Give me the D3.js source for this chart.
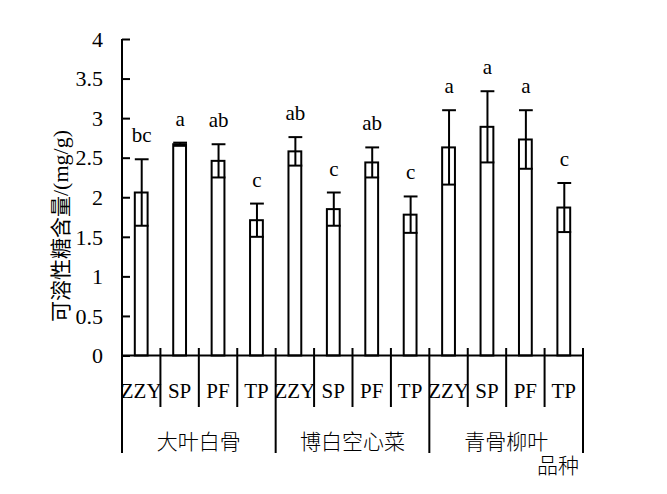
<!DOCTYPE html>
<html><head><meta charset="utf-8">
<script src="https://cdn.jsdelivr.net/npm/d3@7/dist/d3.min.js"></script>
<style>body{margin:0;background:#fff}svg{display:block}</style>
</head><body>
<svg id="c" width="667" height="494"></svg>
<script>
const groups = ["大叶白骨", "博白空心菜", "青骨柳叶"];
const treatments = ["ZZY", "SP", "PF", "TP"];
const means = [2.06, 2.67, 2.46, 1.71, 2.58, 1.85, 2.44, 1.78, 2.63, 2.89, 2.73, 1.87];
const errors = [0.42, 0.02, 0.21, 0.21, 0.18, 0.21, 0.19, 0.23, 0.47, 0.45, 0.37, 0.31];
const letters = ["bc", "a", "ab", "c", "ab", "c", "ab", "c", "a", "a", "a", "c"];
const yTicks = [0, 0.5, 1, 1.5, 2, 2.5, 3, 3.5, 4];
const yLabelCJK = "可溶性糖含量";
const yLabelUnit = "/(mg/g)";
const xTitle = "品种";

(function () {
const data = [];
groups.forEach((g, gi) => treatments.forEach((t, ti) => {
  const i = gi * treatments.length + ti;
  data.push({key: g + "|" + t, g, t, m: means[i], e: errors[i], l: letters[i]});
}));

const svg = d3.select("#c");
const pL = 122, pR = 583, pT = 39, pB = 355.5;
const serif = "'Liberation Serif', 'Times New Roman', serif";
const cjk = "'Noto Sans CJK SC', 'Noto Sans CJK JP', sans-serif";

const x = d3.scaleBand().domain(data.map(d => d.key)).range([pL, pR]).padding(0);
const y = d3.scaleLinear().domain([0, 4]).range([pB, pT]);
const bw = x.bandwidth() / 3;

// bars
svg.append("g").selectAll("rect").data(data).join("rect")
  .attr("x", d => x(d.key) + x.bandwidth() / 2 - bw / 2)
  .attr("y", d => y(d.m))
  .attr("width", bw)
  .attr("height", d => y(0) - y(d.m))
  .attr("fill", "#fff").attr("stroke", "#000").attr("stroke-width", 2);

// error bars
const eg = svg.append("g").attr("stroke", "#000").attr("stroke-width", 2);
data.forEach(d => {
  const cx = x(d.key) + x.bandwidth() / 2 + 0.5;
  const cw = bw / 2 + 0.5;
  eg.append("line").attr("x1", cx).attr("x2", cx).attr("y1", y(d.m - d.e)).attr("y2", y(d.m + d.e));
  eg.append("line").attr("x1", cx - cw).attr("x2", cx + cw).attr("y1", y(d.m + d.e)).attr("y2", y(d.m + d.e));
  eg.append("line").attr("x1", cx - cw).attr("x2", cx + cw).attr("y1", y(d.m - d.e)).attr("y2", y(d.m - d.e));
});

// significance letters
svg.append("g").selectAll("text").data(data).join("text")
  .attr("x", d => x(d.key) + x.bandwidth() / 2 + 0.5)
  .attr("y", d => y(d.m + d.e) - 17)
  .attr("text-anchor", "middle").attr("fill", "#000")
  .style("font-family", serif).style("font-size", "21px")
  .text(d => d.l);

// y axis
const yAxis = d3.axisRight(y).tickValues(yTicks).tickSize(8).tickFormat(d3.format("~g"));
const ya = svg.append("g").attr("transform", `translate(${pL},0)`).call(yAxis);
ya.attr("font-family", null).attr("font-size", null);
ya.select(".domain").attr("stroke-width", 2).attr("d", `M0,${pT}V${pB}`);
ya.selectAll(".tick line").attr("stroke-width", 2);
ya.selectAll(".tick text").attr("x", -19).attr("text-anchor", "end").attr("dy", "0.33em")
  .style("font-family", serif).style("font-size", "22px").attr("fill", "#000");

// x axis line
svg.append("line").attr("x1", pL).attr("x2", pR).attr("y1", pB).attr("y2", pB)
  .attr("stroke", "#000").attr("stroke-width", 2);

// category boundaries
const n = data.length;
const bounds = d3.range(n + 1).map(i => i < n ? x(data[i].key) : pR);
svg.append("g").selectAll("line").data(bounds).join("line")
  .attr("x1", d => d).attr("x2", d => d)
  .attr("y1", 348)
  .attr("y2", (d, i) => i % treatments.length === 0 ? 453 : 407)
  .attr("stroke", "#000").attr("stroke-width", 2);

// category labels
svg.append("g").selectAll("text").data(data).join("text")
  .attr("x", d => x(d.key) + x.bandwidth() / 2)
  .attr("y", 398)
  .attr("text-anchor", "middle").attr("fill", "#000")
  .style("font-family", serif).style("font-size", "21px")
  .text(d => d.t);

// group labels
const gw = x.bandwidth() * treatments.length;
svg.append("g").selectAll("text").data(groups).join("text")
  .attr("x", (g, i) => pL + gw * i + gw / 2)
  .attr("y", 449)
  .attr("text-anchor", "middle").attr("fill", "#000")
  .style("font-family", cjk).style("font-weight", 300).style("font-size", "21px")
  .text(g => g);

svg.append("text").attr("x", 579).attr("y", 473).attr("text-anchor", "end").attr("fill", "#000")
  .style("font-family", cjk).style("font-weight", 300).style("font-size", "21px").text(xTitle);

// y label
const yl = svg.append("text").attr("transform", `translate(68,226) rotate(-90)`)
  .attr("text-anchor", "middle").attr("fill", "#000");
yl.append("tspan").style("font-family", cjk).style("font-size", "21px").text(yLabelCJK);
yl.append("tspan").style("font-family", serif).style("font-size", "22px").text(yLabelUnit);
})();
</script>
</body></html>
